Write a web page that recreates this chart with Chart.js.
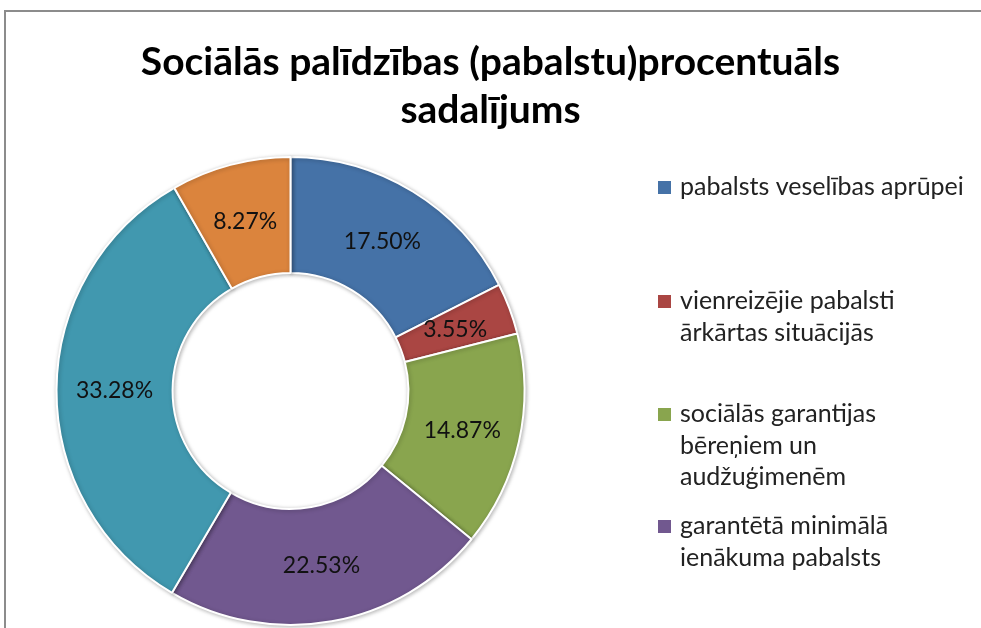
<!DOCTYPE html>
<html>
<head>
<meta charset="utf-8">
<script src="https://cdn.jsdelivr.net/npm/chart.js@4/dist/chart.umd.min.js"></script>
<style>
  html, body { margin: 0; padding: 0; background: #fff; }
  #kaste { width: 981px; height: 628px; position: relative; }
</style>
</head>
<body>
<div id="kaste"><canvas id="grafiks"></canvas></div>
<script>
// dati
const virsraksts = ["Sociālās palīdzības (pabalstu)procentuāls", "sadalījums"];
const kategorijas = [
  ["pabalsts veselības aprūpei"],
  ["vienreizējie pabalsti", "ārkārtas situācijās"],
  ["sociālās garantijas", "bēreņiem un", "audžuģimenēm"],
  ["garantētā minimālā", "ienākuma pabalsts"],
];
const procenti = [17.50, 3.55, 14.87, 22.53, 33.28, 8.27];
const krasas = ["#4572A7", "#AA4643", "#89A54E", "#71588F", "#4198AF", "#DB843D"];

const fonts = "Lato, 'Open Sans', sans-serif";

// legendas rindu bāzes līnijas (pirmā rinda katram ierakstam)
const legendaY = [195, 309, 422, 534];
const rindasAugstums = 31.5;

const zimejums = {
  id: "zimejums",
  beforeDraw(chart) {
    const ctx = chart.ctx;
    ctx.save();
    ctx.fillStyle = "#8c8c8c";
    ctx.fillRect(4, 10, 981, 2);
    ctx.fillRect(4, 10, 2, 628);
    ctx.restore();
  },
  beforeDatasetsDraw(chart) {
    const ctx = chart.ctx;
    ctx.save();
    ctx.shadowColor = "rgba(0,0,0,0.28)";
    ctx.shadowBlur = 4;
    ctx.shadowOffsetX = 1;
    ctx.shadowOffsetY = 1;
  },
  afterDatasetsDraw(chart) {
    const ctx = chart.ctx;
    ctx.restore();
    const meta = chart.getDatasetMeta(0);
    ctx.save();
    // procenti uz lokiem
    ctx.font = "23px " + fonts;
    ctx.fillStyle = "#111";
    ctx.textAlign = "center";
    ctx.textBaseline = "middle";
    meta.data.forEach((arc, i) => {
      const p = arc.getCenterPoint();
      ctx.fillText(procenti[i].toFixed(2) + "%", p.x, p.y + 1);
    });

    // virsraksts
    ctx.font = "bold 39px " + fonts;
    ctx.fillStyle = "#000";
    ctx.textBaseline = "alphabetic";
    ctx.fillText(virsraksts[0], 490.5, 75);
    ctx.fillText(virsraksts[1], 490.5, 123);

    // leģenda
    ctx.font = "25px " + fonts;
    ctx.textAlign = "left";
    kategorijas.forEach((rindas, i) => {
      const y = legendaY[i];
      ctx.fillStyle = krasas[i];
      ctx.fillRect(658, y - 14, 13, 13);
      ctx.fillStyle = "#222";
      rindas.forEach((r, j) => ctx.fillText(r, 680, y + j * rindasAugstums));
    });
    ctx.restore();
  },
};

new Chart(document.getElementById("grafiks"), {
  type: "doughnut",
  data: {
    labels: kategorijas,
    datasets: [{
      data: procenti,
      backgroundColor: krasas,
      borderColor: "#fff",
      borderWidth: 2,
    }],
  },
  options: {
    responsive: true,
    maintainAspectRatio: false,
    animation: false,
    cutout: "50.4%",
    layout: { padding: { left: 54, right: 454, top: 156, bottom: 2 } },
    plugins: {
      legend: { display: false },
      title: { display: false },
      tooltip: { enabled: false },
    },
  },
  plugins: [zimejums],
});
</script>
</body>
</html>
